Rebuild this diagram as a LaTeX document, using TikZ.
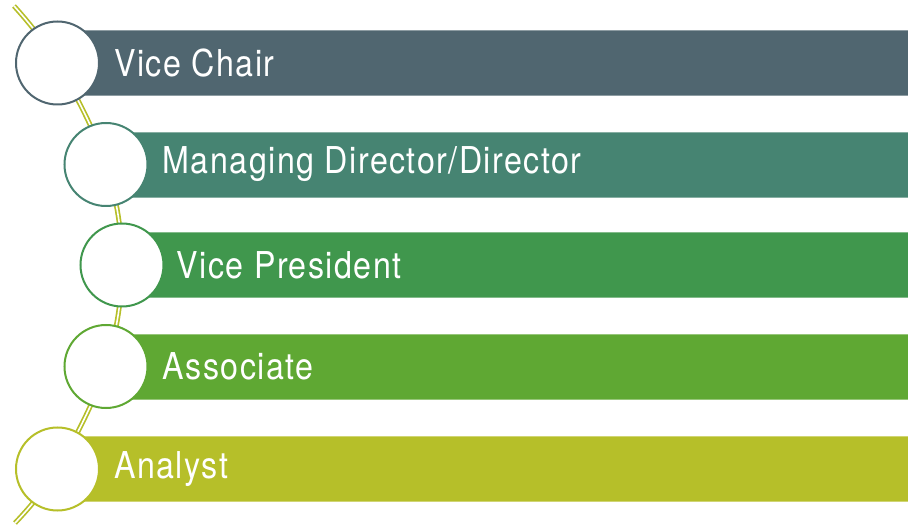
\documentclass[tikz,border=0pt]{standalone}
\usepackage{fontspec}
\setmainfont{TeX Gyre Heros}[FakeStretch=0.87,LetterSpace=4]
\usepackage{tikz}
\usetikzlibrary{positioning}
\usepackage{xcolor}
\definecolor{slate}{HTML}{506670}
\definecolor{teal}{HTML}{468472}
\definecolor{leaf}{HTML}{40974D}
\definecolor{grass}{HTML}{5FA833}
\definecolor{lime}{HTML}{B6BF29}
\tikzset{
	x=1pt, y=-1pt,
	ring/.style={circle, fill=white, draw=#1, line width=2pt, minimum size=83pt, inner sep=0pt},
	bar/.style={rectangle, fill=#1, draw=#1!65!white, line width=0.8pt, anchor=west, minimum height=65pt, inner sep=0pt},
	lbl/.style={text=white, inner sep=0pt, anchor=west, font=\fontsize{37}{40}\selectfont},
	spine/.style={draw=lime, line width=1.7pt, double=white, double distance=1.6pt}}

\begin{document}
\begin{tikzpicture}
		\useasboundingbox (0,0) rectangle (908,526);
		\coordinate (top) at (14,6);
		\coordinate (c1) at (57.5,63);
		\coordinate (c2) at (106,164.5);
		\coordinate (c3) at (122,265);
		\coordinate (c4) at (106,366.5);
		\coordinate (c5) at (57.5,469);
		\coordinate (bot) at (15,523);
		
		\draw[spine] plot[smooth, tension=0.6] coordinates {(top) (c1) (c2) (c3) (c4) (c5) (bot)};
		
		\node[bar=slate, minimum width=851pt] (b1) at (c1) {};
		\node[bar=teal, minimum width=802pt] (b2) at (c2) {};
		\node[bar=leaf, minimum width=786pt] (b3) at (c3) {};
		\node[bar=grass, minimum width=802pt] (b4) at (c4) {};
		\node[bar=lime, minimum width=851pt] (b5) at (c5) {};
		
		\node[ring=slate] (r1) at (c1) {};
		\node[ring=teal] (r2) at (c2) {};
		\node[ring=leaf] (r3) at (c3) {};
		\node[ring=grass] (r4) at (c4) {};
		\node[ring=lime] (r5) at (c5) {};
		
		\node[lbl, right=14pt of r1] (t1) {Vice Chair};
		\node[lbl, right=14pt of r2] (t2) {Managing Director/Director};
		\node[lbl, right=12pt of r3] (t3) {Vice President};
		\node[lbl, right=14pt of r4] (t4) {Associate};
		\node[lbl, right=14pt of r5] (t5) {Analyst};
	\end{tikzpicture}
\end{document}
